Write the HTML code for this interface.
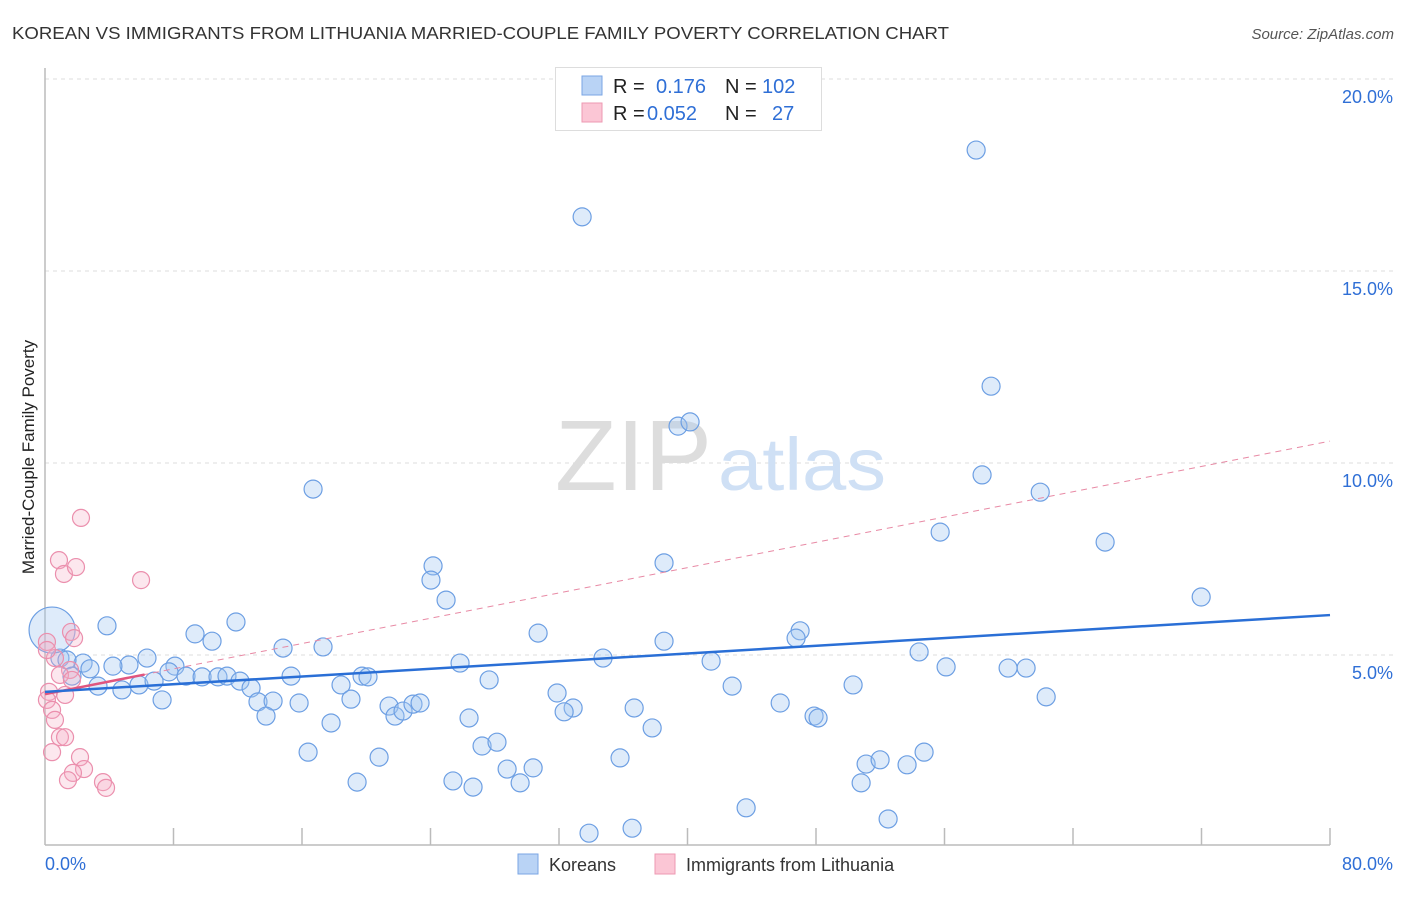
<!DOCTYPE html>
<html><head><meta charset="utf-8"><style>
body{margin:0;background:#fff;font-family:"Liberation Sans",sans-serif;}
svg text{font-family:"Liberation Sans",sans-serif;}
</style></head><body>
<svg width="1406" height="892" viewBox="0 0 1406 892">
<text x="12" y="39" font-size="17.5" fill="#333" textLength="937" lengthAdjust="spacingAndGlyphs">KOREAN VS IMMIGRANTS FROM LITHUANIA MARRIED-COUPLE FAMILY POVERTY CORRELATION CHART</text>
<text x="1394" y="39" font-size="15" fill="#555" text-anchor="end" font-style="italic">Source: ZipAtlas.com</text>
<g id="grid"></g>
<text x="712" y="490" font-size="100" fill="#ddd" text-anchor="end" font-family="Liberation Serif" textLength="157" lengthAdjust="spacingAndGlyphs">ZIP</text>
<text x="718" y="490" font-size="74" fill="#cfe0f5" textLength="168" lengthAdjust="spacingAndGlyphs">atlas</text>
<g id="axes"></g>
<g id="marks"></g>
<text transform="translate(34,457) rotate(-90)" font-size="17" fill="#222" text-anchor="middle">Married-Couple Family Poverty</text>
<g>
<rect x="555.5" y="67.5" width="266" height="63" fill="#fff" stroke="#ddd"/>
<rect x="582" y="76" width="20" height="19" fill="#b9d3f5" stroke="#7aa6e4"/>
<rect x="582" y="103" width="20" height="19" fill="#fbc6d5" stroke="#ee98b2"/>
<text x="613" y="93" font-size="20" fill="#222">R =</text>
<text x="656" y="93" font-size="20" fill="#2f6fd6">0.176</text>
<text x="725" y="93" font-size="20" fill="#222">N =</text>
<text x="762" y="93" font-size="20" fill="#2f6fd6">102</text>
<text x="613" y="120" font-size="20" fill="#222">R =</text>
<text x="647" y="120" font-size="20" fill="#2f6fd6">0.052</text>
<text x="725" y="120" font-size="20" fill="#222">N =</text>
<text x="772" y="120" font-size="20" fill="#2f6fd6">27</text>
</g>
<g>
<rect x="518" y="854" width="20" height="20" fill="#b9d3f5" stroke="#7aa6e4"/>
<text x="549" y="871" font-size="18" fill="#333">Koreans</text>
<rect x="655" y="854" width="20" height="20" fill="#fbc6d5" stroke="#ee98b2"/>
<text x="686" y="871" font-size="18" fill="#333">Immigrants from Lithuania</text>
</g>
</svg>
<script>
const blueX=[33.44,57.97,58.90,39.41,40.16,58.34,61.96,66.0,16.69,55.73,24.16,24.03,38.54,24.97,71.98,3.86,11.89,9.34,10.40,30.70,38.54,14.82,17.31,47.01,46.76,54.42,6.35,5.23,4.23,2.37,2.80,8.09,7.72,8.78,9.78,10.77,11.33,12.14,15.32,19.74,20.11,25.84,34.74,41.47,56.10,59.96,61.08,3.30,4.79,5.85,6.79,12.83,18.43,27.65,42.78,50.31,7.29,13.26,14.20,15.82,19.05,21.42,21.79,22.29,22.91,23.35,31.88,32.88,32.32,36.68,45.77,62.33,13.76,17.81,26.40,47.88,48.13,37.80,16.38,20.80,27.21,28.14,35.80,51.12,51.99,53.67,54.73,19.43,25.40,26.65,28.77,29.58,30.39,50.81,43.65,33.87,36.55,52.49,0.93,1.37,1.68];
const blueY=[16.41,18.15,12.00,10.96,11.07,9.69,9.24,7.94,9.32,8.20,7.32,6.95,7.40,6.43,6.51,5.76,5.86,5.55,5.36,5.57,5.36,5.18,5.21,5.63,5.44,5.08,4.92,4.74,4.71,4.79,4.64,4.71,4.56,4.45,4.43,4.43,4.45,4.32,4.45,4.45,4.43,4.79,4.92,4.84,4.69,4.66,4.66,4.19,4.09,4.22,4.32,4.14,4.22,4.35,4.19,4.22,3.83,3.78,3.80,3.75,3.85,3.67,3.41,3.54,3.72,3.75,4.01,3.62,3.52,3.62,3.75,3.91,3.41,3.23,3.36,3.41,3.36,3.10,2.47,2.34,2.63,2.73,2.32,2.16,2.27,2.14,2.47,1.69,1.72,1.56,2.03,1.67,2.06,1.67,1.02,0.36,0.49,0.73,4.92,4.87,4.45];
const pinkX=[2.24,0.87,1.18,1.93,5.98,1.62,1.81,0.12,0.62,1.56,0.25,1.25,0.12,0.44,0.62,0.93,1.25,0.44,2.18,2.43,1.74,1.43,3.61,3.80,0.12,0.93,1.68];
const pinkY=[8.57,7.47,7.11,7.29,6.95,5.60,5.44,5.34,4.92,4.61,4.04,3.96,3.83,3.57,3.31,2.86,2.86,2.47,2.34,2.03,1.93,1.74,1.69,1.54,5.13,4.48,4.35];
const bigX=[0.44], bigY=[5.65];
const blueTrend=[4.04,6.04];
const pinkTrend=[3.98,10.57];
const yTicks=[5,10,15,20];
const xTickVals=[8,16,24,32,40,48,56,64,72,80];
const X=v=>45+v/80*1285, Y=v=>847-v*38.4;
const NS='http://www.w3.org/2000/svg';
function mk(p,t,a){const e=document.createElementNS(NS,t);for(const k in a)e.setAttribute(k,a[k]);p.appendChild(e);return e;}
const grid=document.getElementById('grid'),axes=document.getElementById('axes'),marks=document.getElementById('marks');
yTicks.forEach(v=>{
 const l=mk(grid,'line',{x1:45,x2:1394,y1:Y(v),y2:Y(v),stroke:'#ddd','stroke-dasharray':'4,4'});
 
 
 const t=mk(grid,'text',{x:1393,y:Y(v)+24,'font-size':18,fill:'#2f6fd6','text-anchor':'end'});
 t.textContent=v.toFixed(1)+'%';
 
 
});
let a=mk(axes,'line',{x1:45,x2:45,y1:68,y2:845,stroke:'#bbb','stroke-width':1.5});


a=mk(axes,'line',{x1:45,x2:1330,y1:845,y2:845,stroke:'#bbb','stroke-width':1.5});


xTickVals.forEach(v=>{const t=mk(axes,'line',{x1:X(v),x2:X(v),y1:828,y2:845,stroke:'#bbb','stroke-width':1.5});
 
 });
let t=mk(axes,'text',{x:45,y:870,'font-size':18,fill:'#2f6fd6'});t.textContent='0.0%';


t=mk(axes,'text',{x:1393,y:870,'font-size':18,fill:'#2f6fd6','text-anchor':'end'});t.textContent='80.0%';


blueX.forEach((x,i)=>{const c=mk(marks,'circle',{cx:X(x),cy:Y(blueY[i]),r:9,fill:'rgba(160,198,242,0.35)',stroke:'#6d9fe3','stroke-width':1.2});
 
 });
bigX.forEach((x,i)=>{const c=mk(marks,'circle',{cx:X(x),cy:Y(bigY[i]),r:23,fill:'rgba(160,198,242,0.35)',stroke:'#6d9fe3','stroke-width':1.2});
 
 });
pinkX.forEach((x,i)=>{const c=mk(marks,'circle',{cx:X(x),cy:Y(pinkY[i]),r:8.5,fill:'rgba(245,175,198,0.3)',stroke:'#eb8fad','stroke-width':1.2});
 
 });
let l=mk(marks,'line',{x1:X(0),x2:X(80),y1:Y(pinkTrend[0]),y2:Y(pinkTrend[1]),stroke:'#e88aa5','stroke-width':1,'stroke-dasharray':'6,5'});


const pe=6.2;
l=mk(marks,'line',{x1:X(0),x2:X(pe),y1:Y(pinkTrend[0]),y2:Y(pinkTrend[0]+(pinkTrend[1]-pinkTrend[0])*pe/80),stroke:'#e0557f','stroke-width':2.5});


l=mk(marks,'line',{x1:X(0),x2:X(80),y1:Y(blueTrend[0]),y2:Y(blueTrend[1]),stroke:'#2a6fd6','stroke-width':2.5});


</script>
</body></html>
